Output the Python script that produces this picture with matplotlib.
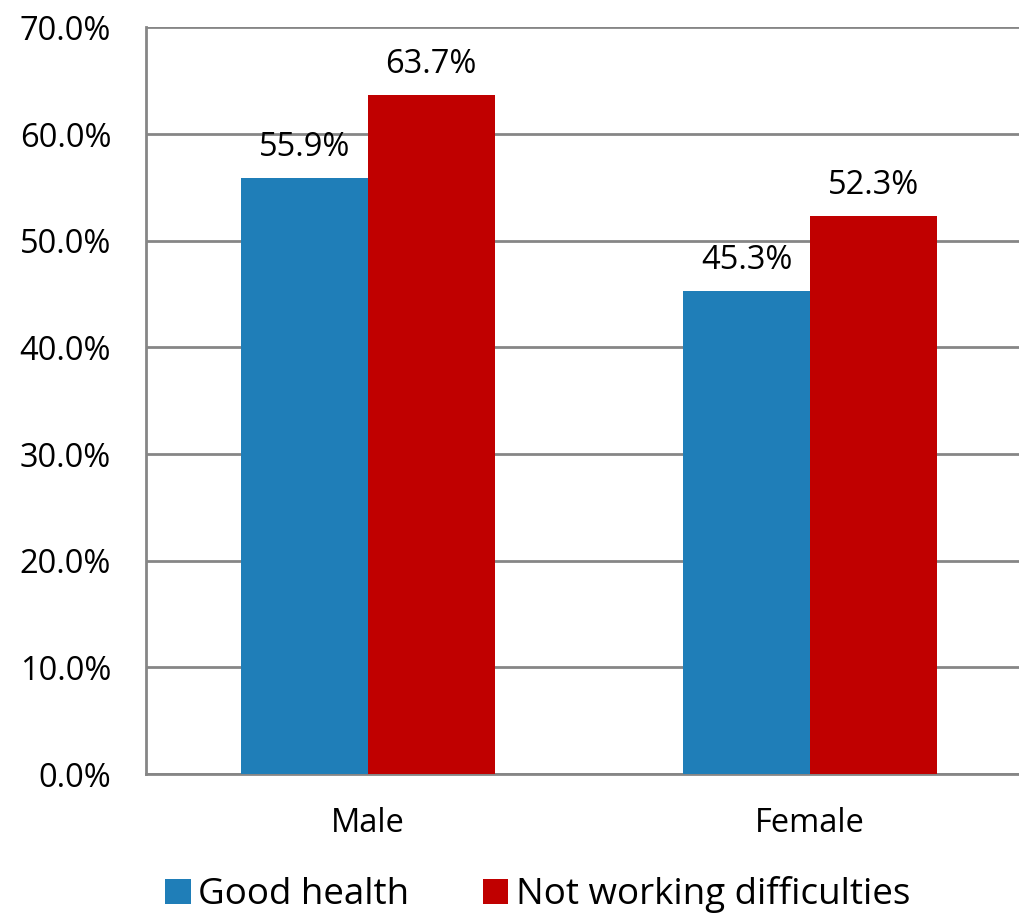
import matplotlib.pyplot as plt
import numpy as np
from matplotlib.ticker import FuncFormatter

# data
categories = ['Male', 'Female']
good_health = [55.9, 45.3]
not_working = [63.7, 52.3]
series_names = ['Good health', 'Not working difficulties']
colors = ['#1f7eb8', '#c00000']

plt.rcParams['font.family'] = ['Open Sans', 'DejaVu Sans']

fig = plt.figure(figsize=(10.2, 9.14), dpi=100)
ax = fig.add_axes([0.143, 0.153, 0.857, 0.817])

x = np.arange(len(categories))
w = 0.287
b1 = ax.bar(x - w / 2, good_health, w, color=colors[0], label=series_names[0], zorder=3)
b2 = ax.bar(x + w / 2, not_working, w, color=colors[1], label=series_names[1], zorder=3)

for bars in (b1, b2):
    for rect in bars:
        h = rect.get_height()
        ax.annotate('{:.1f}%'.format(h), (rect.get_x() + rect.get_width() / 2, h),
                    xytext=(0, 10), textcoords='offset points',
                    ha='center', va='bottom', fontsize=23.5)

ax.set_ylim(0, 70)
ax.set_xlim(-0.502, 1.475)
ax.set_yticks(np.arange(0, 71, 10))
ax.yaxis.set_major_formatter(FuncFormatter(lambda v, p: '{:.1f}%'.format(v)))
ax.set_xticks(x)
ax.set_xticklabels(categories)
ax.tick_params(axis='both', length=0, labelsize=23.5)
ax.tick_params(axis='y', pad=25)
ax.tick_params(axis='x', pad=24)

ax.grid(axis='y', color='#868686', linewidth=2, zorder=0)
for spine in ['top', 'right']:
    ax.spines[spine].set_visible(False)
for spine in ['left', 'bottom']:
    ax.spines[spine].set_color('#868686')
    ax.spines[spine].set_linewidth(2)

fig.legend(handles=[b1, b2], loc='center', bbox_to_anchor=(0.527, 0.021), ncol=2,
           frameon=False, fontsize=26.5, handlelength=0.7, handleheight=0.7,
           handletextpad=0.2, columnspacing=2.0)

plt.savefig('out.png', dpi=100)
